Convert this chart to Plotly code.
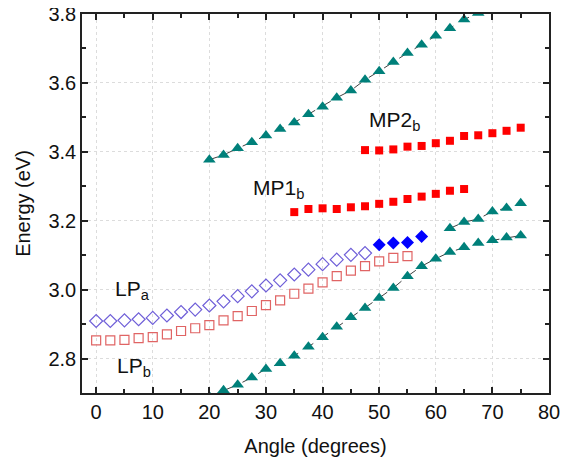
import plotly.graph_objects as go

# ---- data ----
tri_up_x = [20, 22.5, 25, 27.5, 30, 32.5, 35, 37.5, 40, 42.5, 45, 47.5, 50, 52.5, 55, 57.5, 60, 62.5, 65, 67.5]
tri_up_y = [3.377, 3.391, 3.41, 3.428, 3.447, 3.466, 3.485, 3.509, 3.531, 3.557, 3.578, 3.609, 3.634, 3.661, 3.687, 3.711, 3.737, 3.759, 3.784, 3.803]

tri_mid_x = [62.5, 65, 67.5, 70, 72.5, 75]
tri_mid_y = [3.178, 3.196, 3.205, 3.227, 3.237, 3.251]

tri_low_x = [20, 22.5, 25, 27.5, 30, 32.5, 35, 37.5, 40, 42.5, 45, 47.5, 50, 52.5, 55, 57.5, 60, 62.5, 65, 67.5, 70, 72.5, 75]
tri_low_y = [2.69, 2.708, 2.724, 2.745, 2.770, 2.786, 2.808, 2.834, 2.862, 2.892, 2.920, 2.947, 2.976, 3.005, 3.039, 3.068, 3.090, 3.109, 3.123, 3.135, 3.143, 3.151, 3.157]

mp2_x = [47.5, 50, 52.5, 55, 57.5, 60, 62.5, 65, 67.5, 70, 72.5, 75]
mp2_y = [3.405, 3.404, 3.407, 3.415, 3.417, 3.425, 3.432, 3.446, 3.448, 3.454, 3.461, 3.470]

mp1_x = [35, 37.5, 40, 42.5, 45, 47.5, 50, 52.5, 55, 57.5, 60, 62.5, 65]
mp1_y = [3.225, 3.234, 3.236, 3.234, 3.239, 3.242, 3.249, 3.255, 3.263, 3.270, 3.278, 3.287, 3.292]

lpa_x = [0, 2.5, 5, 7.5, 10, 12.5, 15, 17.5, 20, 22.5, 25, 27.5, 30, 32.5, 35, 37.5, 40, 42.5, 45, 47.5]
lpa_y = [2.909, 2.909, 2.911, 2.914, 2.918, 2.925, 2.935, 2.942, 2.954, 2.966, 2.981, 2.995, 3.012, 3.027, 3.044, 3.058, 3.074, 3.087, 3.101, 3.106]

lpa_fill_x = [50, 52.5, 55, 57.5]
lpa_fill_y = [3.130, 3.135, 3.137, 3.154]

lpb_x = [0, 2.5, 5, 7.5, 10, 12.5, 15, 17.5, 20, 22.5, 25, 27.5, 30, 32.5, 35, 37.5, 40, 42.5, 45, 47.5, 50, 52.5, 55]
lpb_y = [2.853, 2.853, 2.854, 2.859, 2.862, 2.870, 2.880, 2.888, 2.897, 2.911, 2.923, 2.938, 2.955, 2.969, 2.988, 3.003, 3.021, 3.039, 3.055, 3.068, 3.082, 3.092, 3.097]

labels = ["MP2<sub>b</sub>", "MP1<sub>b</sub>", "LP<sub>a</sub>", "LP<sub>b</sub>"]
label_x = [47.9, 27.3, 3.0, 3.4]
label_y = [3.49, 3.292, 3.0, 2.776]

FONT = "Liberation Sans, Arial, sans-serif"
TEAL = "#00807a"
fig = go.Figure()

for xs, ys in [(tri_up_x, tri_up_y), (tri_mid_x, tri_mid_y), (tri_low_x, tri_low_y)]:
    fig.add_trace(go.Scatter(x=xs, y=ys, mode="lines+markers",
                             line=dict(color="#404040", width=1, dash="dash"),
                             marker=dict(symbol="triangle-up", size=11, color=TEAL),
                             showlegend=False))

fig.add_trace(go.Scatter(x=mp2_x, y=mp2_y, mode="markers",
                         marker=dict(symbol="square", size=8, color="#ff0000"), showlegend=False))
fig.add_trace(go.Scatter(x=mp1_x, y=mp1_y, mode="markers",
                         marker=dict(symbol="square", size=8, color="#ff0000"), showlegend=False))
fig.add_trace(go.Scatter(x=lpa_x, y=lpa_y, mode="markers",
                         marker=dict(symbol="diamond-open", size=10, color="#6f5fd8", line=dict(width=1.2)),
                         showlegend=False))
fig.add_trace(go.Scatter(x=lpa_fill_x, y=lpa_fill_y, mode="markers",
                         marker=dict(symbol="diamond", size=10, color="#0000ff"), showlegend=False))
fig.add_trace(go.Scatter(x=lpb_x, y=lpb_y, mode="markers",
                         marker=dict(symbol="square-open", size=9, color="#e06464", line=dict(width=1.2)),
                         showlegend=False))

for t, x, y in zip(labels, label_x, label_y):
    fig.add_annotation(x=x, y=y, text=t, showarrow=False, xanchor="left", yanchor="middle",
                       font=dict(size=21, color="#111111", family=FONT))

axis_common = dict(
    showline=True, linecolor="#222222", linewidth=1.5, mirror="ticks",
    ticks="inside", ticklen=6, tickwidth=1.5, tickcolor="#222222",
    showgrid=True, gridcolor="#dcdcdc", griddash="dot", gridwidth=1,
    zeroline=False, automargin=False, ticklabeloverflow="allow",
    tickfont=dict(size=20, color="#111111", family=FONT),
)

fig.update_xaxes(range=[-2.5, 80], dtick=10, tick0=0,
                 minor=dict(dtick=5, ticks="inside", ticklen=4, tickcolor="#222222", showgrid=False),
                 title=dict(text="Angle (degrees)", standoff=17,
                            font=dict(size=20, color="#111111", family=FONT)),
                 **axis_common)
fig.update_yaxes(range=[2.7, 3.8], dtick=0.2, tick0=2.8, tickformat=".1f",
                 minor=dict(dtick=0.1, ticks="inside", ticklen=4, tickcolor="#222222", showgrid=False),
                 title=dict(text="Energy (eV)", standoff=12,
                            font=dict(size=20, color="#111111", family=FONT)),
                 **axis_common)

# page body has an 8px default margin, so margins are shifted by 8px
fig.update_layout(width=574, height=462, margin=dict(l=74, r=33, t=6, b=77, autoexpand=False),
                  plot_bgcolor="white", paper_bgcolor="white")

fig.write_html("out.html")
